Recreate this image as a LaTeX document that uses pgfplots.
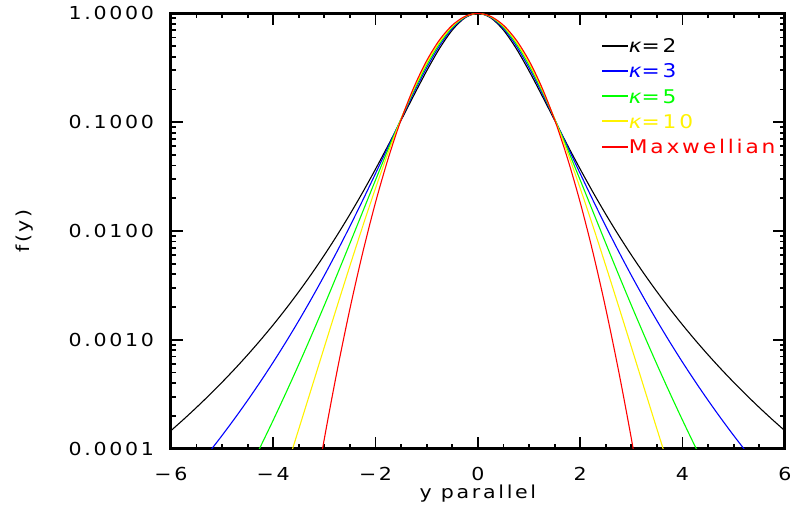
\documentclass[border=0pt]{standalone}
\usepackage{pgfplots}
\pgfplotsset{compat=1.18}
\usepackage{fontspec}
\setmainfont{DejaVu Sans}[FakeStretch=1.15,LetterSpace=15]
\usetikzlibrary{calc}
\begin{document}
\begin{tikzpicture}
\begin{axis}[
  scale only axis, width=309pt, height=219pt,
  xmin=-6, xmax=6, ymode=log, ymin=1e-4, ymax=1,
  xtick={-6,-4,-2,0,2,4,6}, xticklabels={−6,−4,−2,0,2,4,6},
  minor xtick={-5.5,-5,-4.5,-3.5,-3,-2.5,-1.5,-1,-0.5,0.5,1,1.5,2.5,3,3.5,4.5,5,5.5},
  ytick={1e-4,1e-3,1e-2,1e-1,1}, yticklabels={0.0001,0.0010,0.0100,0.1000,1.0000},
  minor ytick={2e-4,3e-4,4e-4,5e-4,6e-4,7e-4,8e-4,9e-4,2e-3,3e-3,4e-3,5e-3,6e-3,7e-3,8e-3,9e-3,2e-2,3e-2,4e-2,5e-2,6e-2,7e-2,8e-2,9e-2,0.2,0.3,0.4,0.5,0.6,0.7,0.8,0.9},
  tick align=inside, major tick length=6pt, minor tick length=2.5pt,
  axis line style={line width=1.4pt},
  every tick/.style={black, line width=0.9pt},
  tick label style={font=\fontsize{9}{10}\selectfont},
  yticklabel style={xshift=-5pt},
  xticklabel style={yshift=-6pt},
  xlabel={y parallel}, ylabel={f(y)},
  label style={font=\fontsize{9}{10}\selectfont},
  xlabel style={at={(axis description cs:0.5,-0.103)}, anchor=center},
  ylabel style={at={(axis description cs:-0.238,0.5)}, anchor=center},
  legend style={draw=none, fill=none, at={(rel axis cs:0.70,0.942)}, anchor=north west,
    inner sep=0pt, font=\fontsize{9.5}{10}\selectfont,
    nodes={text height=6.8pt, text depth=0pt, inner sep=0pt},
    row sep=5.9pt,
    /tikz/every even column/.append style={column sep=4pt}},
  legend cell align=left,
  every axis plot/.append style={line width=0.55pt, smooth},
]
\addplot[black, legend image code/.code={\draw[black, line width=1pt] (0pt,0pt) -- (13pt,0pt);}] coordinates {
(-6,1.458e-4)(-5.75,1.856e-4)(-5.5,2.385e-4)(-5.25,3.0965e-4)(-5,4.064e-4)(-4.75,5.398e-4)(-4.5,7.263e-4)(-4.25,9.907e-4)(-4,0.0013717)(-3.75,0.0019304)(-3.5,0.0027647)(-3.25,0.0040352)(-3,0.0060105)(-2.75,0.0091490)(-2.5,0.014247)(-2.25,0.022710)(-2,0.037037)(-1.75,0.061659)(-1.5,0.10421)(-1.25,0.17694)(-1,0.2963)(-0.75,0.4754)(-0.5,0.7023)(-0.25,0.9118)(0,1)
(0.25,0.9118)(0.5,0.7023)(0.75,0.4754)(1,0.2963)(1.25,0.17694)(1.5,0.10421)(1.75,0.061659)(2,0.037037)(2.25,0.022710)(2.5,0.014247)(2.75,0.0091490)(3,0.0060105)(3.25,0.0040352)(3.5,0.0027647)(3.75,0.0019304)(4,0.0013717)(4.25,9.907e-4)(4.5,7.263e-4)(4.75,5.398e-4)(5,4.064e-4)(5.25,3.0965e-4)(5.5,2.385e-4)(5.75,1.856e-4)(6,1.458e-4)};
\addlegendentry{\textcolor{black}{{\itshape κ}=2}}
\addplot[blue, legend image code/.code={\draw[blue, line width=1pt] (0pt,0pt) -- (13pt,0pt);}] coordinates {
(-5.5,6.627e-5)(-5.25,9.284e-5)(-5,1.3178e-4)(-4.75,1.8970e-4)(-4.5,2.7720e-4)(-4.25,4.1157e-4)(-4,6.2154e-4)(-3.75,9.5568e-4)(-3.5,0.0014976)(-3.25,0.0023940)(-3,0.0039063)(-2.75,0.0065075)(-2.5,0.011064)(-2.25,0.019169)(-2,0.033736)(-1.75,0.059962)(-1.5,0.10662)(-1.25,0.18693)(-1,0.31641)(-0.75,0.50288)(-0.5,0.72603)(-0.25,0.92083)(0,1)
(0.25,0.92083)(0.5,0.72603)(0.75,0.50288)(1,0.31641)(1.25,0.18693)(1.5,0.10662)(1.75,0.059962)(2,0.033736)(2.25,0.019169)(2.5,0.011064)(2.75,0.0065075)(3,0.0039063)(3.25,0.0023940)(3.5,0.0014976)(3.75,9.5568e-4)(4,6.2154e-4)(4.25,4.1157e-4)(4.5,2.7720e-4)(4.75,1.8970e-4)(5,1.3178e-4)(5.25,9.284e-5)(5.5,6.627e-5)};
\addlegendentry{\textcolor{blue}{{\itshape κ}=3}}
\addplot[green, legend image code/.code={\draw[green, line width=1pt] (0pt,0pt) -- (13pt,0pt);}] coordinates {
(-4.5,6.029e-5)(-4.25,1.0384e-4)(-4,1.8218e-4)(-3.75,3.2564e-4)(-3.5,5.930e-4)(-3.25,0.0010999)(-3,0.0020751)(-2.75,0.0039753)(-2.5,0.0077074)(-2.25,0.015052)(-2,0.029401)(-1.75,0.056885)(-1.5,0.10760)(-1.25,0.19562)(-1,0.33490)(-0.75,0.52747)(-0.5,0.74621)(-0.25,0.92817)(0,1)
(0.25,0.92817)(0.5,0.74621)(0.75,0.52747)(1,0.33490)(1.25,0.19562)(1.5,0.10760)(1.75,0.056885)(2,0.029401)(2.25,0.015052)(2.5,0.0077074)(2.75,0.0039753)(3,0.0020751)(3.25,0.0010999)(3.5,5.930e-4)(3.75,3.2564e-4)(4,1.8218e-4)(4.25,1.0384e-4)(4.5,6.029e-5)};
\addlegendentry{\textcolor{green}{{\itshape κ}=5}}
\addplot[yellow, legend image code/.code={\draw[yellow, line width=1pt] (0pt,0pt) -- (13pt,0pt);}] coordinates {
(-3.75,6.386e-5)(-3.5,1.5113e-4)(-3.25,3.5989e-4)(-3,8.584e-4)(-2.75,0.0020396)(-2.5,0.004793)(-2.25,0.011045)(-2,0.024695)(-1.75,0.052937)(-1.5,0.10728)(-1.25,0.20250)(-1,0.35049)(-0.75,0.54773)(-0.5,0.76214)(-0.25,0.93376)(0,1)
(0.25,0.93376)(0.5,0.76214)(0.75,0.54773)(1,0.35049)(1.25,0.20250)(1.5,0.10728)(1.75,0.052937)(2,0.024695)(2.25,0.011045)(2.5,0.004793)(2.75,0.0020396)(3,8.584e-4)(3.25,3.5989e-4)(3.5,1.5113e-4)(3.75,6.386e-5)};
\addlegendentry{\textcolor{yellow}{{\itshape κ}=10}}
\addplot[red, legend image code/.code={\draw[red, line width=1pt] (0pt,0pt) -- (13pt,0pt);}] coordinates {
(-3.25,2.58e-5)(-3,1.2341e-4)(-2.75,5.195e-4)(-2.5,0.0019305)(-2.25,0.0063297)(-2,0.018316)(-1.75,0.046771)(-1.5,0.10540)(-1.25,0.20961)(-1,0.36788)(-0.75,0.56978)(-0.5,0.77880)(-0.25,0.93941)(0,1)
(0.25,0.93941)(0.5,0.77880)(0.75,0.56978)(1,0.36788)(1.25,0.20961)(1.5,0.10540)(1.75,0.046771)(2,0.018316)(2.25,0.0063297)(2.5,0.0019305)(2.75,5.195e-4)(3,1.2341e-4)(3.25,2.58e-5)};
\addlegendentry{\textcolor{red}{Maxwellian}}
\end{axis}
\path ($(current axis.south west)+(-86pt,-32pt)$) rectangle ($(current axis.north east)+(4pt,2.5pt)$);
\end{tikzpicture}
\end{document}
